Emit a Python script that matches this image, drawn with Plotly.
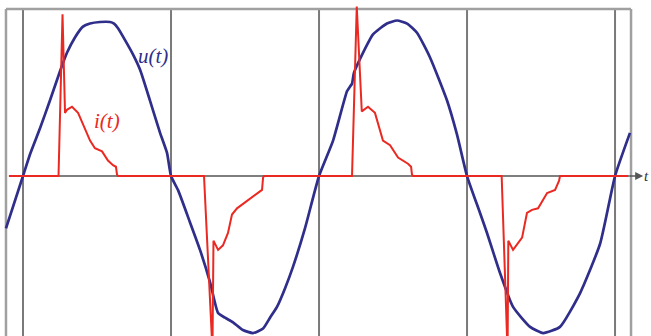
import plotly.graph_objects as go

# Time axis in ms (50 Hz -> 20 ms period), values in per-unit
u_t = [-1.15, 0.0, 0.47, 1.15, 1.82, 2.50, 2.97, 3.51, 4.05, 4.53, 5.20, 5.88, 6.15, 6.42,
       7.03, 7.43, 7.91, 8.58, 9.26, 9.73, 10.0, 10.47, 11.28, 11.96, 12.64, 13.18, 13.65,
       14.19, 14.86, 15.54, 16.22, 16.69, 17.16, 17.70, 18.24, 19.05, 20.0,
       20.95, 21.89, 22.09, 22.23, 22.36, 22.97, 23.65, 24.59, 25.27, 25.95, 26.62, 27.50,
       28.65, 29.32, 30.0, 30.88, 31.35, 32.23, 33.11, 34.26, 35.14, 36.28, 37.64, 38.99,
       40.0, 41.01]
u_v = [-0.34, 0.0, 0.14, 0.31, 0.49, 0.68, 0.80, 0.90, 0.97, 0.99, 1.0, 1.0, 0.99, 0.96,
       0.86, 0.79, 0.69, 0.49, 0.28, 0.15, 0.0, -0.09, -0.30, -0.48, -0.69, -0.89, -0.92,
       -0.95, -1.0, -1.02, -0.99, -0.92, -0.85, -0.73, -0.59, -0.34, 0.0,
       0.23, 0.55, 0.58, 0.60, 0.67, 0.80, 0.92, 0.99, 1.01, 0.99, 0.93, 0.77,
       0.49, 0.27, 0.0, -0.24, -0.37, -0.63, -0.85, -0.98, -1.02, -0.98, -0.76, -0.44,
       0.0, 0.28]

i_t = [-0.95, 2.40, 2.67, 2.84, 2.97, 3.31, 3.72, 4.12, 4.53, 4.86, 5.34, 5.74, 6.08, 6.28,
       6.35, 6.42, 12.23, 12.80, 12.87, 13.18, 13.51, 13.85, 14.12, 14.46, 15.20, 15.88,
       16.15, 16.22, 16.28, 22.23, 22.55, 22.89, 23.31, 23.78, 24.32, 24.80, 25.34, 26.01,
       26.22, 26.28, 26.35, 32.34, 32.74, 32.79, 33.11, 33.72, 34.05, 34.39, 34.80, 35.41,
       35.95, 36.22, 36.28, 40.88]
i_v = [0.0, 0.0, 1.05, 0.41, 0.43, 0.45, 0.41, 0.32, 0.23, 0.18, 0.16, 0.10, 0.07, 0.06,
       0.01, 0.0, 0.0, -1.13, -0.42, -0.48, -0.45, -0.37, -0.25, -0.21, -0.16, -0.11,
       -0.09, -0.01, 0.0, 0.0, 1.10, 0.42, 0.45, 0.41, 0.23, 0.20, 0.12, 0.08,
       0.06, 0.01, 0.0, 0.0, -1.15, -0.42, -0.48, -0.40, -0.24, -0.22, -0.21, -0.11,
       -0.09, -0.03, 0.0, 0.0]

period_marks = [0, 10, 20, 30, 40]
labels = {"u": "<i>u(t)</i>", "i": "<i>i(t)</i>", "t": "<i>t</i>"}

BLUE = "#2f2e8b"
RED = "#ea2a22"

fig = go.Figure()
fig.add_trace(go.Scatter(x=u_t, y=u_v, mode="lines",
                         line=dict(color=BLUE, width=2.7, shape="spline", smoothing=0.5),
                         hoverinfo="skip", showlegend=False))
fig.add_trace(go.Scatter(x=i_t, y=i_v, mode="lines",
                         line=dict(color=RED, width=2.0),
                         hoverinfo="skip", showlegend=False))

shapes = []
for m in period_marks:
    shapes.append(dict(type="line", xref="x", yref="y", x0=m, x1=m, y0=-1.3, y1=1.084,
                       line=dict(color="#7a7a7a", width=2), layer="below"))
# frame
shapes.append(dict(type="line", xref="x", yref="y", x0=-1.15, x1=-1.15, y0=-1.3, y1=1.084,
                   line=dict(color="#a0a0a0", width=2.5), layer="below"))
shapes.append(dict(type="line", xref="x", yref="y", x0=41.08, x1=41.08, y0=-1.3, y1=1.084,
                   line=dict(color="#a0a0a0", width=2.5), layer="below"))
shapes.append(dict(type="line", xref="x", yref="y", x0=-1.15, x1=41.08, y0=1.084, y1=1.084,
                   line=dict(color="#a0a0a0", width=2.5), layer="below"))
# time axis
shapes.append(dict(type="line", xref="x", yref="y", x0=-0.95, x1=41.0, y0=0, y1=0,
                   line=dict(color="#555555", width=1.6), layer="below"))
fig.update_layout(shapes=shapes)

fig.add_annotation(x=41.9, y=0, ax=40.9, ay=0, xref="x", yref="y", axref="x", ayref="y",
                   text="", showarrow=True, arrowhead=2, arrowsize=1, arrowwidth=1.6,
                   arrowcolor="#555555")
fig.add_annotation(x=1.0, y=0.0, xref="paper", yref="y", text=labels["t"], showarrow=False,
                   xanchor="right", yanchor="middle", xshift=0,
                   font=dict(family="Liberation Serif", size=15, color="#333333"))
fig.add_annotation(x=8.78, y=0.78, xref="x", yref="y", text=labels["u"], showarrow=False,
                   font=dict(family="Liberation Serif", size=21, color=BLUE))
fig.add_annotation(x=5.68, y=0.36, xref="x", yref="y", text=labels["i"], showarrow=False,
                   font=dict(family="Liberation Serif", size=21, color=RED))

fig.update_xaxes(range=[-1.554, 42.43], visible=False, showgrid=False, zeroline=False)
fig.update_yaxes(range=[-1.039, 1.143], visible=False, showgrid=False, zeroline=False)
fig.update_layout(width=651, height=336, margin=dict(l=0, r=0, t=0, b=0),
                  plot_bgcolor="white", paper_bgcolor="white")

fig.write_html("out.html", config={"displayModeBar": False, "staticPlot": True},
               post_script="document.body.style.margin='0';document.body.style.overflow='hidden';")
